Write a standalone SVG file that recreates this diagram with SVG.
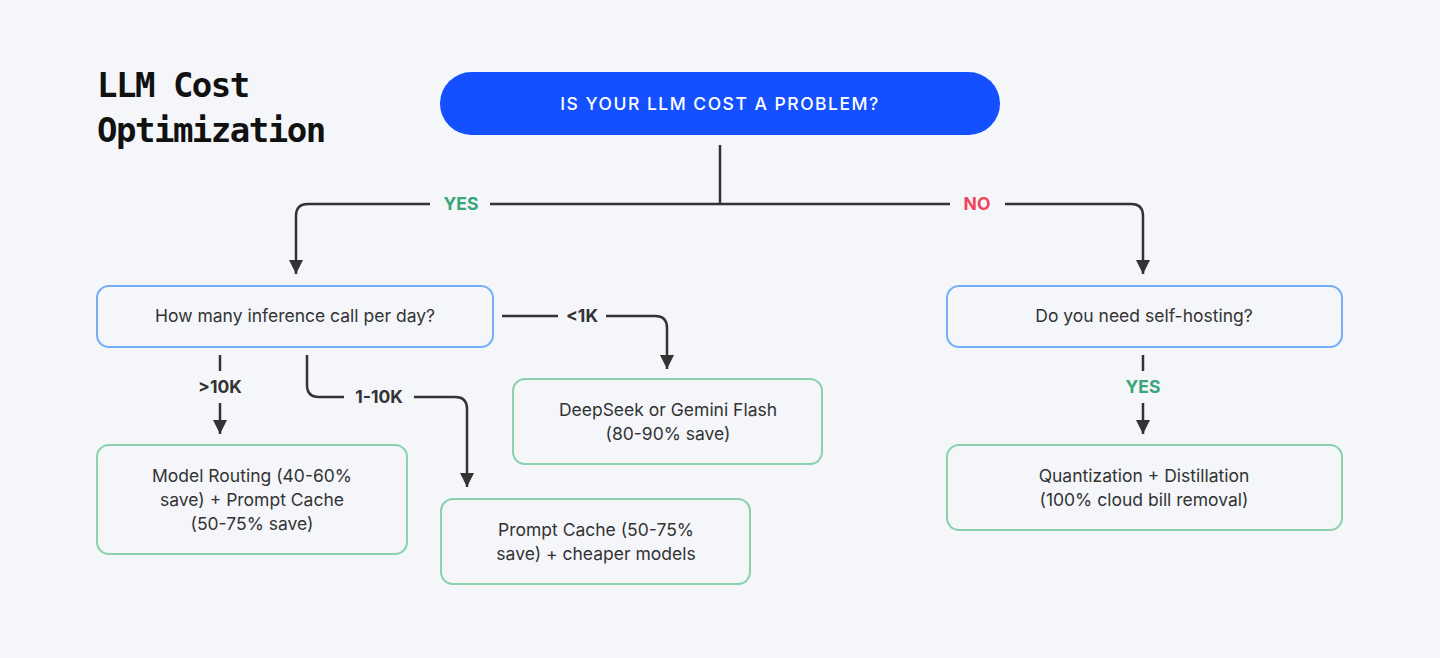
<svg xmlns="http://www.w3.org/2000/svg" width="1440" height="658" viewBox="0 0 1440 658">
<defs>
<style>
.t{font-family:Inter,"Noto Sans",sans-serif;font-size:17.5px;fill:#333;text-anchor:middle}
.q{fill:#f4f6fa;stroke:#74aef6;stroke-width:2}
.a{fill:#f4f6fa;stroke:#8ad1ae;stroke-width:2}
.c{fill:none;stroke:#333;stroke-width:2.5}
.l{font-family:Inter,"Noto Sans",sans-serif;font-size:17.5px;font-weight:700;text-anchor:middle}
</style>
<marker id="ar" viewBox="0 0 10 10" refX="10" refY="5" markerWidth="14" markerHeight="14" markerUnits="userSpaceOnUse" orient="auto"><path d="M0,0L10,5L0,10z" fill="#333"/></marker>
</defs>
<rect width="1440" height="658" fill="#f4f6fa"/>
<text x="97" y="97" font-family="'DejaVu Sans Mono',monospace" font-weight="700" font-size="34" letter-spacing="-1.5" fill="#111">LLM Cost</text>
<text x="97" y="142" font-family="'DejaVu Sans Mono',monospace" font-weight="700" font-size="34" letter-spacing="-1.5" fill="#111">Optimization</text>
<g id="connectors">
<path class="c" d="M720,145V204"/>
<path class="c" d="M430,204H308Q296,204 296,216V274" marker-end="url(#ar)"/>
<path class="c" d="M490,204H950"/>
<path class="c" d="M1005,204H1131Q1143,204 1143,216V274" marker-end="url(#ar)"/>
<path class="c" d="M502,316H558M606,316H655Q667,316 667,328V369" marker-end="url(#ar)"/>
<path class="c" d="M220,355V371M220,403V434" marker-end="url(#ar)"/>
<path class="c" d="M307,355V385Q307,397 319,397H344M414,397H455Q467,397 467,409V487" marker-end="url(#ar)"/>
<path class="c" d="M1143,355V371M1143,403V434" marker-end="url(#ar)"/>
<text class="l" x="461" y="210" fill="#3aa57a">YES</text>
<text class="l" x="977" y="210" fill="#f0445a">NO</text>
<text class="l" x="582" y="322" fill="#333">&lt;1K</text>
<text class="l" x="220" y="393" fill="#333">&gt;10K</text>
<text class="l" x="379" y="403" fill="#333">1-10K</text>
<text class="l" x="1143" y="393" fill="#3aa57a">YES</text>
</g>
<g id="start"><rect x="440" y="72" width="560" height="63" rx="31.5" fill="#1450ff"/><text class="t" x="720" y="110" fill="#fff" style="fill:#fff;font-weight:500;letter-spacing:1.5px">IS YOUR LLM COST A PROBLEM?</text></g>
<g id="calls"><rect class="q" x="97" y="286" width="396" height="61" rx="12"/><text class="t" x="295" y="322">How many inference call per day?</text></g>
<g id="selfhost"><rect class="q" x="947" y="286" width="395" height="61" rx="12"/><text class="t" x="1144" y="322">Do you need self-hosting?</text></g>
<g id="deepseek"><rect class="a" x="513" y="379" width="309" height="85" rx="12"/><text class="t" x="668" y="416">DeepSeek or Gemini Flash</text><text class="t" x="668" y="440">(80-90% save)</text></g>
<g id="routing"><rect class="a" x="97" y="445" width="310" height="109" rx="12"/><text class="t" x="252" y="482">Model Routing (40-60%</text><text class="t" x="252" y="506">save) + Prompt Cache</text><text class="t" x="252" y="530">(50-75% save)</text></g>
<g id="cache"><rect class="a" x="441" y="499" width="309" height="85" rx="12"/><text class="t" x="596" y="536">Prompt Cache (50-75%</text><text class="t" x="596" y="560">save) + cheaper models</text></g>
<g id="quant"><rect class="a" x="947" y="445" width="395" height="85" rx="12"/><text class="t" x="1144" y="482">Quantization + Distillation</text><text class="t" x="1144" y="506">(100% cloud bill removal)</text></g>
</svg>
